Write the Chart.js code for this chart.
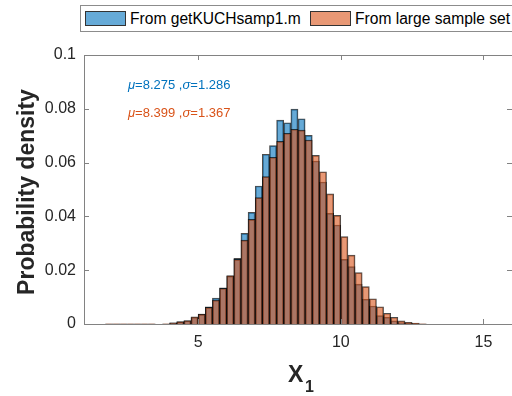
<!DOCTYPE html>
<html>
<head>
<meta charset="utf-8">
<script src="https://cdn.jsdelivr.net/npm/chart.js@4.4.1/dist/chart.umd.min.js"></script>
<style>
    body { margin: 0; overflow: hidden; background: #fff; font-family: 'Liberation Sans', Arial, sans-serif; }
    #wrap { position: relative; width: 520px; height: 396px; }
    #legend { position: absolute; left: 80px; top: 5px; width: 440px; height: 25px; border: 1px solid #8c8c8c; background: #fff; font-size: 15.6px; color: #000; }
    .item { position: absolute; top: 0; height: 25px; line-height: 25px; white-space: nowrap; }
    .swatch { display: inline-block; width: 39px; height: 13px; border: 1px solid #333; vertical-align: -2px; margin-right: 4px; }
</style>
</head>
<body>
<div id="wrap">
    <canvas id="histChart" width="520" height="396"></canvas>
    <div id="legend">
        <div class="item" style="left:4px"><span class="swatch" style="background:rgb(102,170,215)"></span>From getKUCHsamp1.m</div>
        <div class="item" style="left:229px"><span class="swatch" style="background:rgb(232,152,117)"></span>From large sample set</div>
    </div>
</div>
<script>
// bin centres (bin width 0.25)
const binCenters = [1.875, 2.125, 2.375, 2.625, 2.875, 3.125, 3.375, 3.625, 3.875,
    4.125, 4.375, 4.625, 4.875, 5.125, 5.375, 5.625, 5.875, 6.125, 6.375, 6.625, 6.875,
    7.125, 7.375, 7.625, 7.875, 8.125, 8.375, 8.625, 8.875, 9.125, 9.375, 9.625, 9.875,
    10.125, 10.375, 10.625, 10.875, 11.125, 11.375, 11.625, 11.875, 12.125, 12.375, 12.625, 12.875];

// From getKUCHsamp1.m
const sampValues = [0, 0, 0, 0, 0, 0, 0, 0, 0,
    0.0004, 0.0008, 0.0012, 0.0024, 0.0037, 0.0064, 0.0096, 0.0134, 0.0178, 0.0244, 0.0337, 0.0415,
    0.0513, 0.0631, 0.0663, 0.0758, 0.0748, 0.0799, 0.0763, 0.0701, 0.0606, 0.0528, 0.0411, 0.0368,
    0.0240, 0.0213, 0.0148, 0.0092, 0.0067, 0.0031, 0.0025, 0.0012, 0.0005, 0.0003, 0.0001, 0];

// From large sample set
const largeValues = [0.00005, 0.00005, 0.00005, 0.00005, 0.00005, 0.00005, 0.00005, 0, 0.0001,
    0.0004, 0.0009, 0.0013, 0.0027, 0.0037, 0.0062, 0.0089, 0.0133, 0.0180, 0.0240, 0.0312, 0.0389,
    0.0470, 0.0548, 0.0620, 0.0679, 0.0709, 0.0724, 0.0721, 0.0684, 0.0627, 0.0566, 0.0484, 0.0404,
    0.0325, 0.0256, 0.0191, 0.0139, 0.0094, 0.0064, 0.0040, 0.0025, 0.0012, 0.0006, 0.0003, 0.0001];

const xTicks = [5, 10, 15];
const yTicks = [0, 0.02, 0.04, 0.06, 0.08, 0.1];

const blueText = ['μ', '=8.275 ,', 'σ', '=1.286'];
const orangeText = ['μ', '=8.399 ,', 'σ', '=1.367'];

const axisColor = 'rgb(38,38,38)';

function drawMixed(ctx, parts, x, y, color) {
    ctx.fillStyle = color;
    parts.forEach((p, i) => {
        ctx.font = (i % 2 === 0 ? 'italic ' : '') + '13px "Liberation Sans", Arial';
        ctx.fillText(p, x, y);
        x += ctx.measureText(p).width;
    });
}

const framePlugin = {
    id: 'frame',
    afterDraw(chart) {
        const ctx = chart.ctx;
        const a = chart.chartArea;
        const xs = chart.scales.x, ys = chart.scales.y;
        ctx.save();
        ctx.strokeStyle = 'rgb(130,130,130)';
        ctx.lineWidth = 1;
        ctx.strokeRect(a.left + 0.5, a.top + 0.5, a.right - a.left, a.bottom - a.top);
        ctx.beginPath();
        xTicks.forEach(v => {
            const px = Math.round(xs.getPixelForValue(v)) + 0.5;
            ctx.moveTo(px, a.bottom); ctx.lineTo(px, a.bottom - 5);
            ctx.moveTo(px, a.top); ctx.lineTo(px, a.top + 5);
        });
        yTicks.forEach(v => {
            const py = Math.round(ys.getPixelForValue(v)) + 0.5;
            ctx.moveTo(a.left, py); ctx.lineTo(a.left + 5, py);
            ctx.moveTo(a.right, py); ctx.lineTo(a.right - 5, py);
        });
        ctx.stroke();

        // stats text
        ctx.textBaseline = 'alphabetic';
        ctx.textAlign = 'left';
        drawMixed(ctx, blueText, 128, 89, 'rgb(0,114,189)');
        drawMixed(ctx, orangeText, 128, 117, 'rgb(217,83,25)');

        // axis titles
        ctx.fillStyle = axisColor;
        ctx.font = 'bold 23px "Liberation Sans", Arial';
        ctx.fillText('X', 288, 382);
        ctx.font = 'bold 16px "Liberation Sans", Arial';
        ctx.fillText('1', 305, 392);

        ctx.translate(34, 192);
        ctx.rotate(-Math.PI / 2);
        ctx.textAlign = 'center';
        ctx.font = 'bold 23px "Liberation Sans", Arial';
        ctx.fillText('Probability density', 0, 0);
        ctx.restore();
    }
};

const ctx = document.getElementById('histChart');
new Chart(ctx, {
    type: 'bar',
    data: {
        datasets: [{
            label: 'From getKUCHsamp1.m',
            data: binCenters.map((c, i) => ({ x: c, y: sampValues[i] })),
            backgroundColor: 'rgba(0,114,189,0.6)',
            borderColor: 'rgba(0,0,0,0.7)',
            borderWidth: 1,
            order: 1
        }, {
            label: 'From large sample set',
            data: binCenters.map((c, i) => ({ x: c, y: largeValues[i] })),
            backgroundColor: 'rgba(217,83,25,0.6)',
            borderColor: 'rgba(0,0,0,0.7)',
            borderWidth: 1,
            order: 0
        }]
    },
    options: {
        responsive: false,
        animation: false,
        grouped: false,
        barPercentage: 1,
        categoryPercentage: 1,
        layout: { padding: { top: 55, right: 8, left: 0, bottom: 0 } },
        plugins: {
            legend: { display: false },
            tooltip: { enabled: false }
        },
        scales: {
            x: {
                type: 'linear',
                offset: false,
                min: 1,
                max: 16,
                grid: { display: false, drawTicks: false },
                border: { display: false },
                afterBuildTicks: scale => { scale.ticks = xTicks.map(v => ({ value: v })); },
                afterFit: scale => { scale.height = 72; },
                ticks: {
                    padding: 9,
                    color: axisColor,
                    font: { family: '"Liberation Sans", Arial', size: 16 }
                }
            },
            y: {
                min: 0,
                max: 0.1,
                grid: { display: false, drawTicks: false },
                border: { display: false },
                afterBuildTicks: scale => { scale.ticks = yTicks.map(v => ({ value: v })); },
                afterFit: scale => { scale.width = 84; },
                ticks: {
                    padding: 8,
                    color: axisColor,
                    font: { family: '"Liberation Sans", Arial', size: 16 },
                    callback: value => value === 0 ? '0' : String(+value.toFixed(2))
                }
            }
        }
    },
    plugins: [framePlugin]
});
</script>
</body>
</html>
